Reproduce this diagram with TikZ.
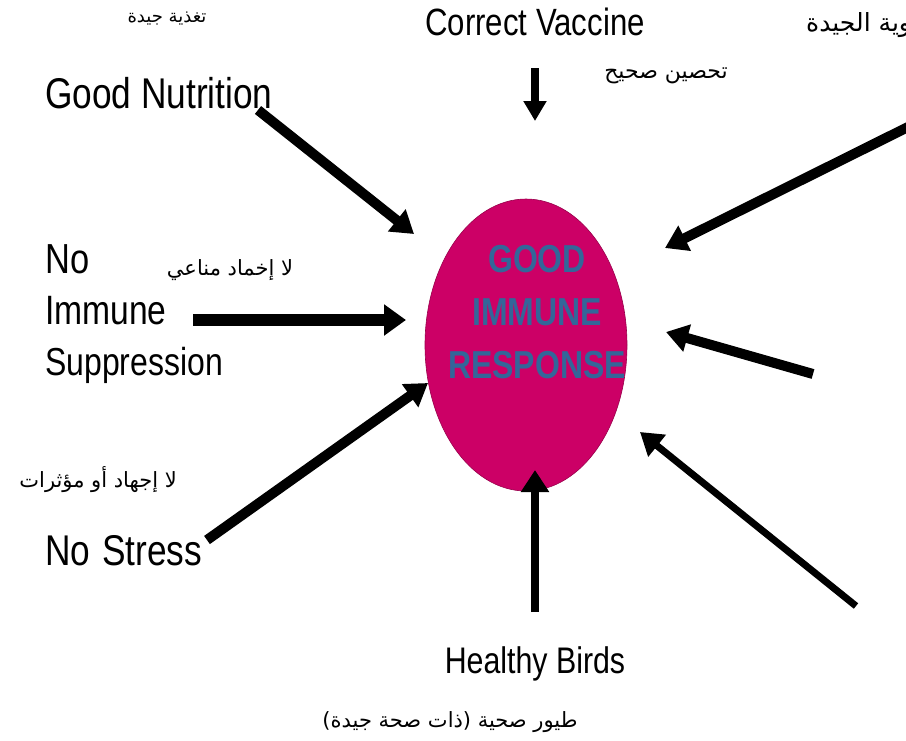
\documentclass[tikz,border=0pt]{standalone}
\usepackage{fontspec}
\setmainfont{Liberation Sans}
\newfontfamily\narrowf[FakeStretch=0.82]{Liberation Sans}
\newfontfamily\arabicfont[Script=Arabic]{DejaVu Sans}
\TeXXeTstate=1
\usetikzlibrary{arrows.meta,shapes.geometric}
\definecolor{magentafill}{HTML}{CC0066}
\definecolor{bluetext}{HTML}{336699}
\newcommand{\lblsize}[1]{\narrowf\fontsize{#1}{#1}\selectfont}
\newcommand{\arsize}[1]{\arabicfont\fontsize{#1}{#1}\selectfont}
\begin{document}
\begin{tikzpicture}[x=1pt,y=-1pt,
  lbl/.style={inner sep=0pt, anchor=base west},
  ar/.style={inner sep=0pt},
  bigarrow/.style={line width=10pt, -{Triangle[length=22pt,width=27pt]}}]
\useasboundingbox (0,0) rectangle (906,740);
\clip (0,0) rectangle (906,740);
\fill[white] (0,0) rectangle (906,740);

% central ellipse
\node[ellipse, fill=magentafill, draw=magentafill!75!black, line width=0.6pt,
      minimum width=202pt, minimum height=292pt, inner sep=0pt] (ell) at (526,345) {};
\node[align=center, inner sep=0pt, text=bluetext,
      font=\narrowf\bfseries\fontsize{39}{53}\selectfont] (elltext) at (537,312) {GOOD\\IMMUNE\\RESPONSE};

% English labels
\node[lbl, anchor=base, font=\lblsize{38}] (cv) at (535,35) {Correct Vaccine};
\node[lbl, font=\lblsize{43}] (gn) at (45,108) {Good Nutrition};
\node[lbl, font=\lblsize{42}] (no) at (45,273) {No};
\node[lbl, font=\lblsize{41}] (imm) at (45,324) {Immune};
\node[lbl, font=\lblsize{39}] (sup) at (45,375) {Suppression};
\node[lbl, font=\lblsize{43}] (ns) at (45,565) {No\hspace{2pt} Stress};
\node[lbl, anchor=base, font=\lblsize{37}] (hb) at (535,673) {Healthy Birds};

% Arabic labels
\node[ar, font=\arsize{18}] (ar1) at (167,19) {\beginR تغذية جيدة\endR};
\node[ar, font=\arsize{22}] (ar2) at (666,76) {\beginR تحصين صحيح\endR};
\node[ar, font=\arsize{21}] (ar3) at (230,270) {\beginR لا إخماد مناعي\endR};
\node[ar, font=\arsize{21}, anchor=east] (ar4) at (177,480) {\beginR لا إجهاد أو مؤثرات\endR};
\node[ar, font=\arsize{21}] (ar5) at (450,722) {\beginR طيور صحية (ذات صحة جيدة)\endR};
\node[ar, font=\arsize{25}, anchor=west] (ar6) at (806,25) {\beginR التهوية الجيدة\endR};

% arrow end points
\coordinate (a1s) at (258,110); \coordinate (a1e) at (414,234);
\coordinate (a2s) at (535,68);  \coordinate (a2e) at (535,121);
\coordinate (a3s) at (912,125); \coordinate (a3e) at (665,248);
\coordinate (a4s) at (193,320); \coordinate (a4e) at (406,320);
\coordinate (a5s) at (813,374); \coordinate (a5e) at (666,332);
\coordinate (a6s) at (207,540); \coordinate (a6e) at (428,383);
\coordinate (a7s) at (535,612); \coordinate (a7e) at (535,470);
\coordinate (a8s) at (856,606); \coordinate (a8e) at (640,432);

\draw[bigarrow] (a1s) -- (a1e);
\draw[bigarrow, line width=8pt, -{Triangle[length=20pt,width=22pt]}] (a2s) -- (a2e);
\draw[bigarrow] (a3s) -- (a3e);
\draw[bigarrow, line width=12pt, -{Triangle[length=22pt,width=30pt]}] (a4s) -- (a4e);
\draw[bigarrow] (a5s) -- (a5e);
\draw[bigarrow] (a6s) -- (a6e);
\draw[bigarrow, line width=8pt] (a7s) -- (a7e);
\draw[bigarrow, line width=7pt] (a8s) -- (a8e);
\end{tikzpicture}
\end{document}
